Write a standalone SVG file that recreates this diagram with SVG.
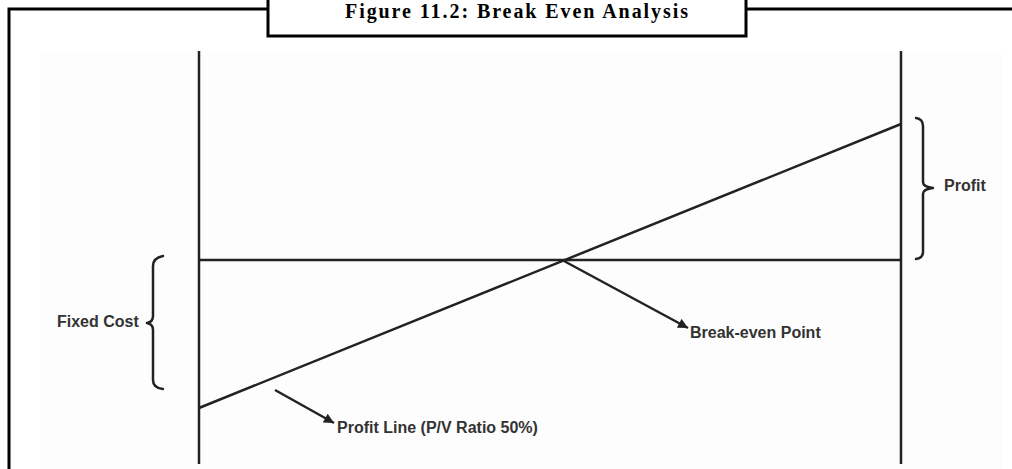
<svg xmlns="http://www.w3.org/2000/svg" width="1012" height="469" viewBox="0 0 1012 469">
  <defs>
    <marker id="arrow" viewBox="0 0 10 10" refX="10" refY="5" markerWidth="12" markerHeight="10" markerUnits="userSpaceOnUse" orient="auto">
      <path d="M0,0 L10,5 L0,10 Z" fill="#222"/>
    </marker>
    <style>
      .frame { fill: none; stroke: #000; stroke-width: 3; }
      .axis { fill: none; stroke: #222; stroke-width: 2.5; }
      .brace { fill: none; stroke: #222; stroke-width: 2.5; stroke-linecap: round; stroke-linejoin: round; }
      .pointer { fill: none; stroke: #222; stroke-width: 2.5; }
      .label { font-family: "Liberation Sans", Arial, sans-serif; font-weight: bold; font-size: 16px; fill: #333; }
      .title { font-family: "Liberation Serif", "Times New Roman", serif; font-weight: bold; font-size: 20px; fill: #000; }
    </style>
  </defs>
  <rect x="0" y="0" width="1012" height="469" fill="#fff"/>
  <rect x="40" y="50" width="962" height="419" fill="#fdfdfd"/>

  <g id="frame">
    <path class="frame" d="M9,469 L9,9 L268,9 M746,9 L1012,9"/>
  </g>
  <g id="title">
    <rect x="268" y="-5" width="478" height="41" fill="#fff" stroke="#000" stroke-width="3"/>
    <text class="title" x="345" y="18" textLength="343" lengthAdjust="spacing">Figure 11.2: Break Even Analysis</text>
  </g>

  <g id="connectors">
    <line id="left-axis" class="axis" x1="199" y1="51" x2="199" y2="464"/>
    <line id="right-axis" class="axis" x1="901" y1="51" x2="901" y2="464"/>
    <line id="fixed-cost-line" class="axis" x1="199" y1="260" x2="901" y2="260"/>
    <line id="profit-line" class="axis" x1="199" y1="408" x2="901" y2="124"/>
    <line class="pointer" x1="564" y1="261" x2="688" y2="328" marker-end="url(#arrow)"/>
    <line class="pointer" x1="275" y1="390" x2="334" y2="423" marker-end="url(#arrow)"/>
  </g>

  <g id="fixed-cost">
    <path class="brace" d="M163,256 Q153,258 153,266 L153,316 Q153,322 147,323 Q153,324 153,330 L153,380 Q153,388 163,389"/>
    <text class="label" x="57" y="327">Fixed Cost</text>
  </g>
  <g id="profit">
    <path class="brace" d="M916,118 Q923,119 923,126 L923,182 Q923,187 933,188 Q923,189 923,194 L923,252 Q923,258 916,259"/>
    <text class="label" x="944" y="191">Profit</text>
  </g>
  <g id="break-even-point">
    <text class="label" x="690" y="338">Break-even Point</text>
  </g>
  <g id="profit-line-label">
    <text class="label" x="337" y="433">Profit Line (P/V Ratio 50%)</text>
  </g>
</svg>
